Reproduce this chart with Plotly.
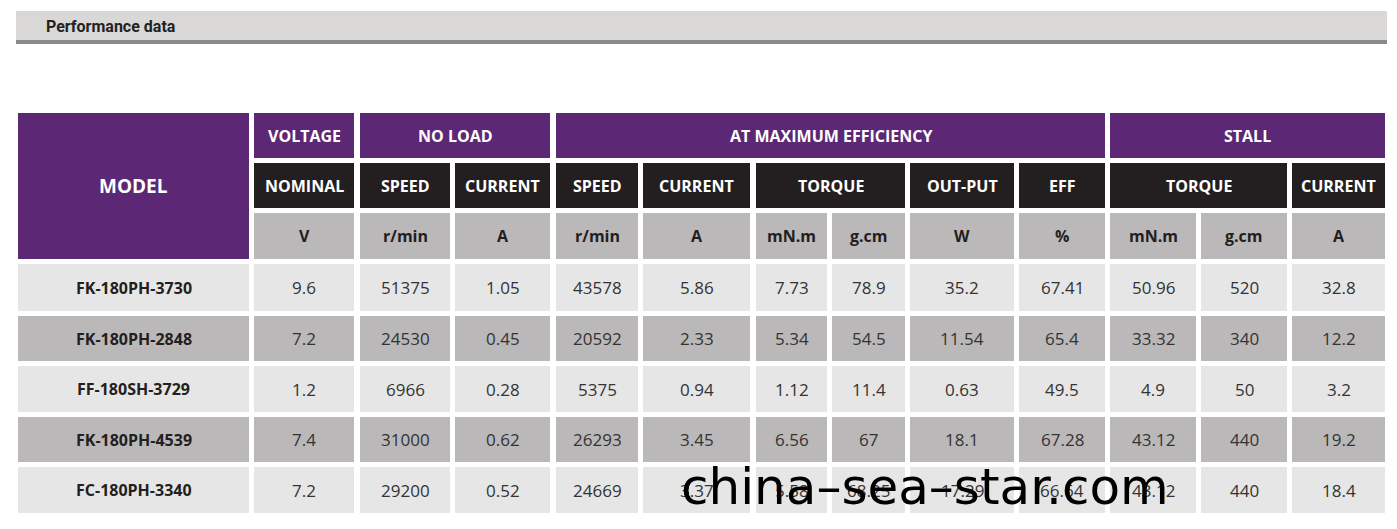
import plotly.graph_objects as go

models = ["FK-180PH-3730", "FK-180PH-2848", "FF-180SH-3729", "FK-180PH-4539", "FC-180PH-3340"]
voltage = ["9.6", "7.2", "1.2", "7.4", "7.2"]
nl_speed = ["51375", "24530", "6966", "31000", "29200"]
nl_current = ["1.05", "0.45", "0.28", "0.62", "0.52"]
me_speed = ["43578", "20592", "5375", "26293", "24669"]
me_current = ["5.86", "2.33", "0.94", "3.45", "3.37"]
me_torque_mnm = ["7.73", "5.34", "1.12", "6.56", "5.58"]
me_torque_gcm = ["78.9", "54.5", "11.4", "67", "68.25"]
me_output = ["35.2", "11.54", "0.63", "18.1", "17.29"]
me_eff = ["67.41", "65.4", "49.5", "67.28", "66.64"]
st_torque_mnm = ["50.96", "33.32", "4.9", "43.12", "43.12"]
st_torque_gcm = ["520", "340", "50", "440", "440"]
st_current = ["32.8", "12.2", "3.2", "19.2", "18.4"]
units = ["V", "r/min", "A", "r/min", "A", "mN.m", "g.cm", "W", "%", "mN.m", "g.cm", "A"]

columns = [voltage, nl_speed, nl_current, me_speed, me_current, me_torque_mnm,
           me_torque_gcm, me_output, me_eff, st_torque_mnm, st_torque_gcm, st_current]

PURPLE = "#5c2876"; BLACK = "#231f20"; GRAY = "#bab8b9"; LIGHT = "#e6e6e6"
FONT = "Open Sans"

xe = [(18, 249), (254, 354), (360, 450), (455, 550), (556, 638), (643, 750), (756, 827),
      (832, 905), (910, 1014), (1019, 1105), (1110, 1196), (1201, 1287), (1292, 1385)]
hy = [(113, 158), (163, 208), (213, 259)]
dy = [(264, 311), (316, 361), (366, 412), (417, 462), (467, 513)]

shapes, ann = [], []
def cell(x0, x1, y0, y1, color, text=None, tcolor="white", size=17, bold=True, dy_=0):
    shapes.append(dict(type="rect", x0=x0, x1=x1, y0=y0, y1=y1, fillcolor=color, line_width=0, layer="below"))
    if text is not None:
        t = f"<b>{text}</b>" if bold else text
        ann.append(dict(x=(x0 + x1) / 2, y=(y0 + y1) / 2 + dy_, text=t, showarrow=False,
                        font=dict(family=FONT, size=size, color=tcolor), xanchor="center", yanchor="middle"))

shapes.append(dict(type="rect", x0=16, x1=1387, y0=11, y1=40, fillcolor="#d9d8d7", line_width=0, layer="below"))
shapes.append(dict(type="rect", x0=16, x1=1387, y0=40, y1=44, fillcolor="#8a8a8a", line_width=0, layer="below"))
ann.append(dict(x=44, y=26, text="<b>Performance data</b>", showarrow=False, xanchor="left", yanchor="middle",
                font=dict(family="Roboto", size=16, color="#222")))

cell(xe[0][0], xe[0][1], hy[0][0], hy[2][1], PURPLE, "MODEL", size=19)
groups = [("VOLTAGE", 1, 1), ("NO LOAD", 2, 3), ("AT MAXIMUM EFFICIENCY", 4, 9), ("STALL", 10, 12)]
for name, a, b in groups:
    cell(xe[a][0], xe[b][1], hy[0][0], hy[0][1], PURPLE, name, size=16)
subs = [("NOMINAL", 1, 1), ("SPEED", 2, 2), ("CURRENT", 3, 3), ("SPEED", 4, 4), ("CURRENT", 5, 5),
        ("TORQUE", 6, 7), ("OUT-PUT", 8, 8), ("EFF", 9, 9), ("TORQUE", 10, 11), ("CURRENT", 12, 12)]
for name, a, b in subs:
    cell(xe[a][0], xe[b][1], hy[1][0], hy[1][1], BLACK, name, size=16)
for i, u in enumerate(units):
    cell(xe[i + 1][0], xe[i + 1][1], hy[2][0], hy[2][1], GRAY, u, tcolor="#231f20", size=16)

for r, (y0, y1) in enumerate(dy):
    col = LIGHT if r % 2 == 0 else GRAY
    cell(xe[0][0], xe[0][1], y0, y1, col, models[r], tcolor="#231f20", size=16)
    for c, vals in enumerate(columns):
        cell(xe[c + 1][0], xe[c + 1][1], y0, y1, col, vals[r], tcolor="#333", size=17, bold=False)

ann.append(dict(x=925, y=487, text="china–sea–star.com", showarrow=False, xanchor="center", yanchor="middle",
                font=dict(family="DejaVu Sans", size=50, color="black")))

fig = go.Figure()
fig.update_layout(width=1397, height=529, margin=dict(l=0, r=0, t=0, b=0), paper_bgcolor="white",
                  plot_bgcolor="white", shapes=shapes, annotations=ann, showlegend=False,
                  xaxis=dict(range=[8, 1405], visible=False, fixedrange=True),
                  yaxis=dict(range=[537, 8], visible=False, fixedrange=True))
fig.write_html("out.html")
